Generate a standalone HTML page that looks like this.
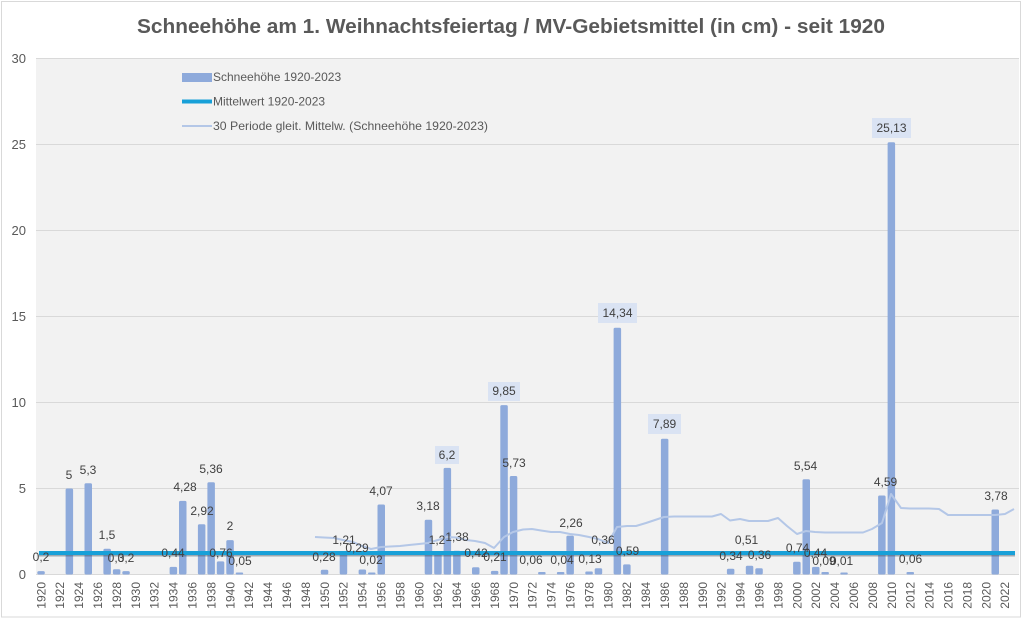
<!DOCTYPE html>
<html>
<head>
<meta charset="utf-8">
<style>
html,body{margin:0;padding:0;background:#ffffff;}
svg{display:block;}
text{font-family:"Liberation Sans",Arial,sans-serif;}
</style>
</head>
<body>
<svg width="1024" height="620" viewBox="0 0 1024 620" xmlns="http://www.w3.org/2000/svg">
<rect x="0" y="0" width="1024" height="620" fill="#ffffff"/>
<rect x="1.5" y="1.5" width="1019" height="615.5" fill="#ffffff" stroke="#d9d9d9" stroke-width="1"/>

<!-- Title -->
<text x="511" y="33" font-size="20" font-weight="bold" fill="#595959" text-anchor="middle" textLength="748" lengthAdjust="spacingAndGlyphs">Schneehöhe am 1. Weihnachtsfeiertag / MV-Gebietsmittel (in cm) - seit 1920</text>

<!-- Plot area -->
<rect x="36" y="58.5" width="983" height="516" fill="#f2f2f2"/>

<!-- gridlines -->
<g stroke="#d9d9d9" stroke-width="1">
<line x1="36" y1="58.5" x2="1019" y2="58.5"/>
<line x1="36" y1="144.5" x2="1019" y2="144.5"/>
<line x1="36" y1="230.5" x2="1019" y2="230.5"/>
<line x1="36" y1="316.5" x2="1019" y2="316.5"/>
<line x1="36" y1="402.5" x2="1019" y2="402.5"/>
<line x1="36" y1="488.5" x2="1019" y2="488.5"/>
<line x1="36" y1="574.5" x2="1019" y2="574.5"/>
</g>

<!-- y labels -->
<g font-size="13" fill="#595959" text-anchor="end">
<text x="26" y="63">30</text>
<text x="26" y="149">25</text>
<text x="26" y="235">20</text>
<text x="26" y="321">15</text>
<text x="26" y="407">10</text>
<text x="26" y="493">5</text>
<text x="26" y="579">0</text>
</g>

<!-- Legend -->
<rect x="182" y="73" width="30" height="9" fill="#8eaadb"/>
<text x="213" y="81" font-size="12" fill="#595959">Schneehöhe 1920-2023</text>
<line x1="182" y1="101.5" x2="212" y2="101.5" stroke="#18a0d8" stroke-width="4"/>
<text x="213" y="105.5" font-size="12" fill="#595959">Mittelwert 1920-2023</text>
<line x1="182" y1="126" x2="212" y2="126" stroke="#b4c7e7" stroke-width="2"/>
<text x="213" y="130" font-size="12" fill="#595959" textLength="275" lengthAdjust="spacingAndGlyphs">30 Periode gleit. Mittelw. (Schneehöhe 1920-2023)</text>

<!-- Bars -->
<g fill="#8eaadb">
<rect x="37.3" y="571.1" width="7.5" height="3.4" rx="1.5"/>
<rect x="65.6" y="488.5" width="7.5" height="86" rx="1.5"/>
<rect x="84.5" y="483.3" width="7.5" height="91.2" rx="1.5"/>
<rect x="103.4" y="548.7" width="7.5" height="25.8" rx="1.5"/>
<rect x="112.9" y="569.3" width="7.5" height="5.2" rx="1.5"/>
<rect x="122.3" y="571.1" width="7.5" height="3.4" rx="1.5"/>
<rect x="169.6" y="566.9" width="7.5" height="7.6" rx="1.5"/>
<rect x="179.0" y="500.9" width="7.5" height="73.6" rx="1.5"/>
<rect x="197.9" y="524.3" width="7.5" height="50.2" rx="1.5"/>
<rect x="207.4" y="482.3" width="7.5" height="92.2" rx="1.5"/>
<rect x="216.8" y="561.4" width="7.5" height="13.1" rx="1.5"/>
<rect x="226.3" y="540.1" width="7.5" height="34.4" rx="1.5"/>
<rect x="235.7" y="572.5" width="7.5" height="2" rx="1"/>
<rect x="320.8" y="569.7" width="7.5" height="4.8" rx="1.5"/>
<rect x="339.7" y="553.7" width="7.5" height="20.8" rx="1.5"/>
<rect x="358.6" y="569.5" width="7.5" height="5" rx="1.5"/>
<rect x="368.0" y="572.5" width="7.5" height="2" rx="1"/>
<rect x="377.5" y="504.5" width="7.5" height="70" rx="1.5"/>
<rect x="424.7" y="519.8" width="7.5" height="54.7" rx="1.5"/>
<rect x="434.2" y="553.9" width="7.5" height="20.6" rx="1.5"/>
<rect x="443.6" y="467.9" width="7.5" height="106.6" rx="1.5"/>
<rect x="453.1" y="550.8" width="7.5" height="23.7" rx="1.5"/>
<rect x="472.0" y="567.3" width="7.5" height="7.2" rx="1.5"/>
<rect x="490.9" y="570.9" width="7.5" height="3.6" rx="1.5"/>
<rect x="500.3" y="405.1" width="7.5" height="169.4" rx="1.5"/>
<rect x="509.8" y="476" width="7.5" height="98.5" rx="1.5"/>
<rect x="538.1" y="572" width="7.5" height="2.5" rx="1"/>
<rect x="556.9" y="572" width="7.5" height="2.5" rx="1"/>
<rect x="566.4" y="535.6" width="7.5" height="38.9" rx="1.5"/>
<rect x="585.3" y="571.5" width="7.5" height="3" rx="1"/>
<rect x="594.7" y="568.3" width="7.5" height="6.2" rx="1.5"/>
<rect x="613.6" y="327.8" width="7.5" height="246.7" rx="1.5"/>
<rect x="623.1" y="564.4" width="7.5" height="10.1" rx="1.5"/>
<rect x="660.9" y="438.8" width="7.5" height="135.7" rx="1.5"/>
<rect x="726.9" y="568.7" width="7.5" height="5.8" rx="1.5"/>
<rect x="745.8" y="565.7" width="7.5" height="8.8" rx="1.5"/>
<rect x="755.3" y="568.3" width="7.5" height="6.2" rx="1.5"/>
<rect x="793.1" y="561.8" width="7.5" height="12.7" rx="1.5"/>
<rect x="802.5" y="479.2" width="7.5" height="95.3" rx="1.5"/>
<rect x="812.0" y="566.9" width="7.5" height="7.6" rx="1.5"/>
<rect x="821.4" y="572" width="7.5" height="2.5" rx="1"/>
<rect x="840.3" y="572.5" width="7.5" height="2" rx="1"/>
<rect x="878.1" y="495.5" width="7.5" height="79" rx="1.5"/>
<rect x="887.6" y="142.3" width="7.5" height="432.2" rx="1.5"/>
<rect x="906.5" y="572" width="7.5" height="2.5" rx="1"/>
<rect x="991.5" y="509.5" width="7.5" height="65" rx="1.5"/>
</g>

<!-- Mean line with simple shadow -->
<line x1="39" y1="555" x2="1015" y2="555" stroke="#3a5060" stroke-opacity="0.45" stroke-width="3"/>
<line x1="39" y1="553" x2="1015" y2="553" stroke="#18a0d8" stroke-width="4"/>

<!-- Moving average -->
<polyline fill="none" stroke="#b4c7e7" stroke-width="2" stroke-linejoin="round" points="315,537 324,537.5 334,538 343,540 353,542 362,546 371,549 381,547 390,546.5 400,546 409,545 419,544 428,543 438,540 447,537 456,537.5 466,540 475,541 485,543 494,548 504,537 513,532 523,529.5 532,529 541,530.5 551,532 560,532 570,534 579,535 589,537 598,539 608,543 617,527 627,526 636,526 646,523 655,520 664,517 674,516.5 683,516.5 693,516.5 702,516.5 712,516.5 721,514 730,520.5 740,519 749,521 759,521 768,521 778,518 787,526 797,534 806,531 815,532 825,532.5 834,532.5 844,532.5 853,532.5 863,532.5 872,529 882,523 891,494 901,508 910,508.5 920,508.5 929,508.5 939,509 948,515 958,515 967,515 976,515 986,515 995,515 1005,514 1014,509"/>

<!-- label boxes -->
<g fill="#dae3f3">
<rect x="872" y="118" width="39" height="20"/>
<rect x="598" y="303" width="39" height="20"/>
<rect x="488" y="382" width="32" height="19"/>
<rect x="648" y="414" width="33" height="20"/>
<rect x="435" y="446" width="24" height="18"/>
</g>

<!-- data labels -->
<g font-size="12" fill="#404040" text-anchor="middle">
<text x="41" y="561">0,2</text>
<text x="69" y="479">5</text>
<text x="88" y="474">5,3</text>
<text x="107" y="539">1,5</text>
<text x="116" y="562">0,3</text>
<text x="126" y="562">0,2</text>
<text x="173" y="557">0,44</text>
<text x="185" y="491">4,28</text>
<text x="202" y="515">2,92</text>
<text x="211" y="473">5,36</text>
<text x="221" y="557">0,76</text>
<text x="230" y="530">2</text>
<text x="240" y="565">0,05</text>
<text x="324" y="561">0,28</text>
<text x="344" y="544">1,21</text>
<text x="357" y="552">0,29</text>
<text x="371" y="564">0,02</text>
<text x="381" y="495">4,07</text>
<text x="428" y="510">3,18</text>
<text x="437" y="544">1,2</text>
<text x="457" y="541">1,38</text>
<text x="447" y="459">6,2</text>
<text x="476" y="557">0,42</text>
<text x="495" y="561">0,21</text>
<text x="504" y="395">9,85</text>
<text x="514" y="467">5,73</text>
<text x="531" y="564">0,06</text>
<text x="562" y="564">0,04</text>
<text x="571" y="527">2,26</text>
<text x="590" y="563">0,13</text>
<text x="603" y="544">0,36</text>
<text x="617.5" y="317">14,34</text>
<text x="627.5" y="555">0,59</text>
<text x="664.5" y="428">7,89</text>
<text x="731" y="560">0,34</text>
<text x="746.5" y="544">0,51</text>
<text x="759.5" y="559">0,36</text>
<text x="797.5" y="552">0,74</text>
<text x="805.5" y="470">5,54</text>
<text x="815.5" y="557">0,44</text>
<text x="824" y="565">0,09</text>
<text x="841.5" y="565">0,01</text>
<text x="885.5" y="486">4,59</text>
<text x="891.5" y="132">25,13</text>
<text x="910.5" y="563">0,06</text>
<text x="996" y="500">3,78</text>
</g>

<!-- x labels -->
<g font-size="12" fill="#595959" text-anchor="end">
<text transform="translate(45.3,582) rotate(-90)">1920</text>
<text transform="translate(64.2,582) rotate(-90)">1922</text>
<text transform="translate(83.1,582) rotate(-90)">1924</text>
<text transform="translate(102.0,582) rotate(-90)">1926</text>
<text transform="translate(120.9,582) rotate(-90)">1928</text>
<text transform="translate(139.8,582) rotate(-90)">1930</text>
<text transform="translate(158.7,582) rotate(-90)">1932</text>
<text transform="translate(177.6,582) rotate(-90)">1934</text>
<text transform="translate(196.5,582) rotate(-90)">1936</text>
<text transform="translate(215.4,582) rotate(-90)">1938</text>
<text transform="translate(234.3,582) rotate(-90)">1940</text>
<text transform="translate(253.2,582) rotate(-90)">1942</text>
<text transform="translate(272.1,582) rotate(-90)">1944</text>
<text transform="translate(291.0,582) rotate(-90)">1946</text>
<text transform="translate(309.9,582) rotate(-90)">1948</text>
<text transform="translate(328.8,582) rotate(-90)">1950</text>
<text transform="translate(347.7,582) rotate(-90)">1952</text>
<text transform="translate(366.6,582) rotate(-90)">1954</text>
<text transform="translate(385.5,582) rotate(-90)">1956</text>
<text transform="translate(404.4,582) rotate(-90)">1958</text>
<text transform="translate(423.3,582) rotate(-90)">1960</text>
<text transform="translate(442.2,582) rotate(-90)">1962</text>
<text transform="translate(461.1,582) rotate(-90)">1964</text>
<text transform="translate(480.0,582) rotate(-90)">1966</text>
<text transform="translate(498.9,582) rotate(-90)">1968</text>
<text transform="translate(517.8,582) rotate(-90)">1970</text>
<text transform="translate(536.7,582) rotate(-90)">1972</text>
<text transform="translate(555.6,582) rotate(-90)">1974</text>
<text transform="translate(574.5,582) rotate(-90)">1976</text>
<text transform="translate(593.4,582) rotate(-90)">1978</text>
<text transform="translate(612.3,582) rotate(-90)">1980</text>
<text transform="translate(631.2,582) rotate(-90)">1982</text>
<text transform="translate(650.1,582) rotate(-90)">1984</text>
<text transform="translate(669.0,582) rotate(-90)">1986</text>
<text transform="translate(687.9,582) rotate(-90)">1988</text>
<text transform="translate(706.8,582) rotate(-90)">1990</text>
<text transform="translate(725.7,582) rotate(-90)">1992</text>
<text transform="translate(744.6,582) rotate(-90)">1994</text>
<text transform="translate(763.5,582) rotate(-90)">1996</text>
<text transform="translate(782.4,582) rotate(-90)">1998</text>
<text transform="translate(801.3,582) rotate(-90)">2000</text>
<text transform="translate(820.2,582) rotate(-90)">2002</text>
<text transform="translate(839.1,582) rotate(-90)">2004</text>
<text transform="translate(858.0,582) rotate(-90)">2006</text>
<text transform="translate(876.9,582) rotate(-90)">2008</text>
<text transform="translate(895.8,582) rotate(-90)">2010</text>
<text transform="translate(914.7,582) rotate(-90)">2012</text>
<text transform="translate(933.6,582) rotate(-90)">2014</text>
<text transform="translate(952.5,582) rotate(-90)">2016</text>
<text transform="translate(971.4,582) rotate(-90)">2018</text>
<text transform="translate(990.3,582) rotate(-90)">2020</text>
<text transform="translate(1009.2,582) rotate(-90)">2022</text>
</g>
</svg>
</body>
</html>
